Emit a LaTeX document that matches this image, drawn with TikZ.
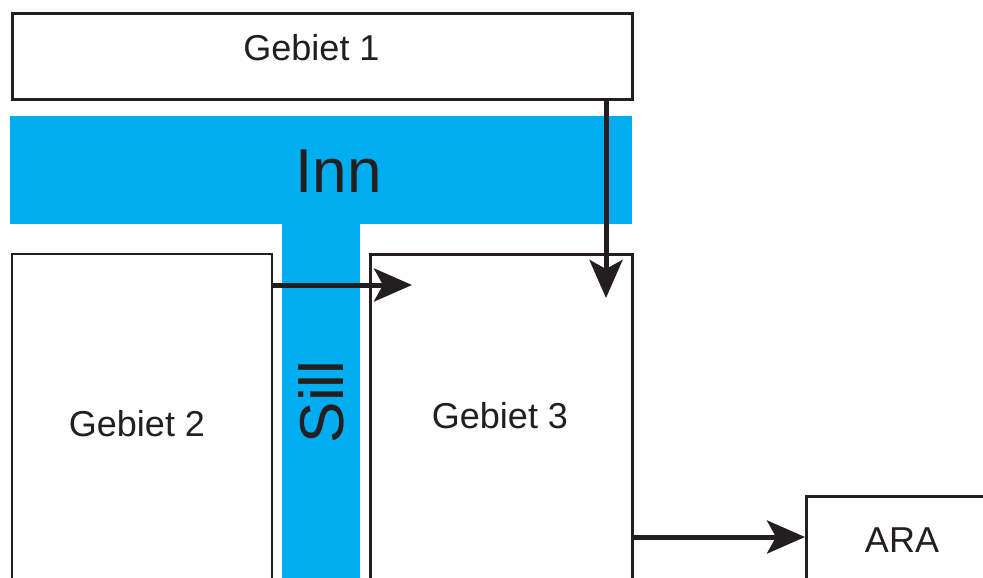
\documentclass[tikz,border=0pt]{standalone}
\usepackage{fontspec}
\setmainfont{Liberation Sans}
\usetikzlibrary{arrows.meta}
\definecolor{inncyan}{HTML}{00ADEE}
\definecolor{ink}{HTML}{231F20}
\tikzset{
  box/.style={draw=ink, line width=2.8pt, fill=white, inner sep=0pt, anchor=north west},
  lbl/.style={inner sep=0pt, text=ink, font=\fontsize{36}{40}\selectfont},
  big/.style={inner sep=0pt, text=ink, font=\fontsize{62}{68}\selectfont},
  arr/.style={draw=ink, line width=5pt, -{Stealth[length=38pt, width=33pt, inset=9pt]}},
}
\begin{document}
\begin{tikzpicture}[x=1pt,y=-1pt]
\useasboundingbox (0,0) rectangle (983,578);
\clip (0,0) rectangle (983,578);
% water bands
\fill[inncyan] (10,116) rectangle (632,224);
\fill[inncyan] (282,223) rectangle (360,590);
\node[big] (inn) at (338.5,171.5) {Inn};
\node[big, rotate=90] (sill) at (321,402) {Sill};
% boxes
\node[box, minimum width=620pt, minimum height=86pt] (g1) at (11,12) {};
\node[box, minimum width=260pt, minimum height=360pt] (g2) at (10.5,252.5) {};
\node[box, minimum width=262pt, minimum height=360pt] (g3) at (369,253) {};
\node[box, minimum width=220pt, minimum height=120pt] (ara) at (805,495) {};
% labels
\node[lbl] (t1) at (311.5,47.5) {Gebiet 1};
\node[lbl] (t2) at (137,424) {Gebiet 2};
\node[lbl] (t3) at (500,416) {Gebiet 3};
\node[lbl] (t4) at (902,540) {ARA};
% connectors
\coordinate (e1) at (606,298);
\coordinate (e2) at (412,285);
\coordinate (e3) at (805,537);
\draw[arr] (g1.south -| e1) -- (e1);
\draw[arr] (g2.east |- e2) -- (e2);
\draw[arr] (g3.east |- e3) -- (ara.west |- e3);
\end{tikzpicture}
\end{document}
